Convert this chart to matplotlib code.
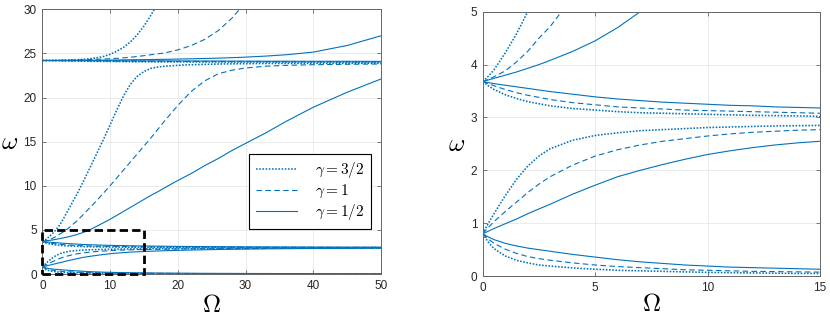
import numpy as np
import matplotlib
matplotlib.use("Agg")
import matplotlib.pyplot as plt
from matplotlib.patches import Rectangle

plt.rcParams["mathtext.fontset"] = "cm"
plt.rcParams["font.family"] = ["Liberation Sans", "DejaVu Sans"]

# Omega sample points (shared by every branch)
Omega = [0, 0.25, 0.5, 1, 1.5, 2, 2.5, 3, 4, 5, 6, 7, 8, 9, 10, 11, 12, 13, 14, 15,
         16, 17, 18, 20, 22, 24, 26, 28, 30, 33, 36, 40, 45, 50]

gamma_labels = [r"$\gamma = 3/2$", r"$\gamma = 1$", r"$\gamma = 1/2$"]

# lowest branch (0.8 -> 0), rows: gamma = 3/2, 1, 1/2
branch_a = [
    [0.8, 0.64, 0.52, 0.38, 0.30, 0.25, 0.21, 0.19, 0.155, 0.13, 0.11, 0.10, 0.09, 0.08, 0.07, 0.065, 0.06, 0.055, 0.05, 0.05,
     0.045, 0.043, 0.04, 0.037, 0.034, 0.031, 0.029, 0.027, 0.025, 0.023, 0.021, 0.019, 0.017, 0.015],
    [0.8, 0.70, 0.62, 0.51, 0.43, 0.37, 0.33, 0.30, 0.25, 0.21, 0.18, 0.16, 0.14, 0.12, 0.11, 0.10, 0.09, 0.085, 0.08, 0.075,
     0.07, 0.066, 0.063, 0.057, 0.052, 0.048, 0.044, 0.041, 0.038, 0.034, 0.031, 0.027, 0.024, 0.02],
    [0.8, 0.74, 0.69, 0.62, 0.57, 0.53, 0.50, 0.47, 0.41, 0.36, 0.31, 0.27, 0.24, 0.21, 0.19, 0.17, 0.16, 0.15, 0.14, 0.13,
     0.12, 0.11, 0.105, 0.095, 0.085, 0.075, 0.07, 0.065, 0.06, 0.055, 0.05, 0.045, 0.04, 0.035],
]

# branch rising from 0.8 towards 3
branch_b = [
    [0.8, 1.0, 1.18, 1.52, 1.83, 2.08, 2.27, 2.41, 2.57, 2.66, 2.71, 2.75, 2.77, 2.79, 2.81, 2.82, 2.83, 2.84, 2.845, 2.85,
     2.86, 2.865, 2.87, 2.88, 2.89, 2.9, 2.91, 2.915, 2.92, 2.93, 2.94, 2.945, 2.95, 2.96],
    [0.8, 0.92, 1.03, 1.22, 1.40, 1.58, 1.74, 1.88, 2.1, 2.27, 2.39, 2.48, 2.55, 2.6, 2.65, 2.69, 2.72, 2.74, 2.76, 2.77,
     2.78, 2.8, 2.81, 2.83, 2.85, 2.86, 2.87, 2.88, 2.89, 2.9, 2.91, 2.92, 2.935, 2.95],
    [0.8, 0.85, 0.9, 0.99, 1.08, 1.18, 1.27, 1.36, 1.55, 1.72, 1.88, 2.0, 2.11, 2.21, 2.3, 2.37, 2.43, 2.48, 2.52, 2.55,
     2.58, 2.61, 2.64, 2.68, 2.72, 2.75, 2.78, 2.8, 2.82, 2.85, 2.87, 2.89, 2.91, 2.93],
]

# branch falling from 3.68 towards 3
branch_c = [
    [3.68, 3.6, 3.53, 3.43, 3.36, 3.30, 3.26, 3.22, 3.17, 3.14, 3.11, 3.09, 3.08, 3.07, 3.06, 3.05, 3.04, 3.035, 3.03, 3.02,
     3.02, 3.015, 3.015, 3.01, 3.01, 3.01, 3.005, 3.005, 3.0, 3.0, 3.0, 3.0, 3.0, 3.0],
    [3.68, 3.64, 3.60, 3.53, 3.47, 3.42, 3.38, 3.34, 3.28, 3.24, 3.2, 3.18, 3.16, 3.14, 3.13, 3.12, 3.11, 3.1, 3.09, 3.08,
     3.075, 3.07, 3.065, 3.06, 3.055, 3.05, 3.045, 3.04, 3.035, 3.03, 3.03, 3.025, 3.02, 3.02],
    [3.68, 3.66, 3.64, 3.61, 3.58, 3.55, 3.52, 3.49, 3.44, 3.39, 3.35, 3.32, 3.29, 3.27, 3.25, 3.23, 3.22, 3.2, 3.19, 3.18,
     3.17, 3.16, 3.15, 3.13, 3.12, 3.11, 3.1, 3.09, 3.08, 3.07, 3.06, 3.05, 3.04, 3.04],
]

# branch rising from 3.68 up to the ~24 level
branch_d = [
    [3.68, 3.78, 3.9, 4.22, 4.58, 5.0, 5.5, 6.1, 7.5, 8.9, 10.4, 12.0, 13.6, 15.2, 16.9, 18.6, 20.2, 21.5, 22.4, 22.95,
     23.3, 23.45, 23.55, 23.65, 23.72, 23.76, 23.8, 23.82, 23.84, 23.86, 23.87, 23.88, 23.89, 23.9],
    [3.68, 3.72, 3.77, 3.88, 4.05, 4.25, 4.5, 4.72, 5.28, 5.95, 6.7, 7.5, 8.3, 9.15, 10.0, 10.9, 11.8, 12.7, 13.6, 14.5,
     15.4, 16.35, 17.3, 19.1, 20.7, 21.9, 22.7, 23.1, 23.35, 23.55, 23.65, 23.72, 23.77, 23.8],
    [3.68, 3.71, 3.74, 3.80, 3.86, 3.93, 4.0, 4.08, 4.25, 4.45, 4.7, 5.0, 5.4, 5.8, 6.2, 6.65, 7.1, 7.55, 8.0, 8.45,
     8.9, 9.3, 9.75, 10.6, 11.4, 12.3, 13.1, 14.0, 14.8, 16.0, 17.3, 18.9, 20.6, 22.1],
]

# branch staying near 24.2
branch_e = [
    [24.2, 24.2, 24.2, 24.19, 24.18, 24.17, 24.16, 24.15, 24.14, 24.13, 24.12, 24.11, 24.1, 24.1, 24.09, 24.08, 24.07, 24.06, 24.06, 24.05,
     24.05, 24.04, 24.04, 24.04, 24.03, 24.03, 24.03, 24.02, 24.02, 24.02, 24.01, 24.01, 24.0, 24.0],
    [24.2, 24.2, 24.2, 24.2, 24.19, 24.19, 24.18, 24.18, 24.17, 24.16, 24.16, 24.15, 24.15, 24.14, 24.14, 24.13, 24.13, 24.12, 24.12, 24.11,
     24.11, 24.11, 24.1, 24.1, 24.09, 24.09, 24.08, 24.08, 24.07, 24.07, 24.06, 24.06, 24.05, 24.05],
    [24.2, 24.2, 24.2, 24.2, 24.2, 24.2, 24.2, 24.19, 24.19, 24.19, 24.19, 24.18, 24.18, 24.18, 24.18, 24.17, 24.17, 24.17, 24.17, 24.16,
     24.16, 24.16, 24.16, 24.15, 24.15, 24.14, 24.14, 24.13, 24.13, 24.12, 24.12, 24.11, 24.11, 24.1],
]

# branch leaving 24.2 upwards (nan once it has left the frame)
nan = np.nan
branch_f = [
    [24.2, 24.2, 24.2, 24.21, 24.21, 24.22, 24.23, 24.24, 24.26, 24.28, 24.32, 24.4, 24.5, 24.65, 24.9, 25.25, 25.7, 26.3, 27.1, 28.1,
     29.3, 30.6, 32.0, nan, nan, nan, nan, nan, nan, nan, nan, nan, nan, nan],
    [24.2, 24.2, 24.2, 24.21, 24.21, 24.22, 24.22, 24.23, 24.24, 24.26, 24.28, 24.31, 24.34, 24.37, 24.4, 24.45, 24.5, 24.57, 24.65, 24.75,
     24.85, 24.95, 25.05, 25.4, 25.9, 26.6, 27.6, 29.0, 30.8, nan, nan, nan, nan, nan],
    [24.2, 24.2, 24.2, 24.2, 24.2, 24.21, 24.21, 24.21, 24.22, 24.22, 24.23, 24.23, 24.24, 24.24, 24.25, 24.26, 24.27, 24.28, 24.29, 24.3,
     24.31, 24.32, 24.33, 24.36, 24.39, 24.43, 24.47, 24.52, 24.58, 24.7, 24.85, 25.15, 25.9, 27.0],
]

branches = [branch_a, branch_b, branch_c, branch_d, branch_e, branch_f]

line_color = "#0072BD"
styles = [
    dict(linestyle=(0, (1, 1)), linewidth=1.15),
    dict(linestyle=(0, (5, 3)), linewidth=0.8),
    dict(linestyle="-", linewidth=0.8),
]


def style_axes(ax, xlim, ylim, xticks, yticks, xpad):
    ax.set_xlim(*xlim)
    ax.set_ylim(*ylim)
    ax.set_xticks(xticks)
    ax.set_yticks(yticks)
    ax.grid(True, color="#e8e8e8", linewidth=0.6)
    ax.set_axisbelow(True)
    for sp in ax.spines.values():
        sp.set_color("#666666")
        sp.set_linewidth(0.7)
    ax.tick_params(direction="in", length=3, width=0.6, color="#666666",
                   labelsize=8.5, labelcolor="#262626", top=True, right=True, pad=4)
    ax.set_xlabel(r"$\Omega$", fontsize=18, labelpad=xpad)
    ax.set_ylabel(r"$\omega$", fontsize=18, rotation=0, labelpad=10, va="center")


fig = plt.figure(figsize=(8.3, 3.17), dpi=100)
ax1 = fig.add_axes([0.051, 0.1356, 0.408, 0.835])
ax2 = fig.add_axes([0.5816, 0.129, 0.4064, 0.834])

for ax in (ax1, ax2):
    for g in range(3):
        for k, br in enumerate(branches):
            ax.plot(Omega, br[g], color=line_color,
                    label=gamma_labels[g] if (ax is ax1 and k == 0) else None,
                    **styles[g])

style_axes(ax1, (0, 50), (0, 30), [0, 10, 20, 30, 40, 50], [0, 5, 10, 15, 20, 25, 30], 1)
style_axes(ax2, (0, 15), (0, 5), [0, 5, 10, 15], [0, 1, 2, 3, 4, 5], -1.5)

# zoom window marking the right panel
ax1.add_patch(Rectangle((0, 0), 15, 5, fill=False, edgecolor="black",
                        linewidth=2.0, linestyle=(0, (3, 1.5)), clip_on=False, zorder=5))

leg = ax1.legend(loc="lower right", bbox_to_anchor=(0.972, 0.169), fontsize=11,
                 handlelength=2.7, handletextpad=1.2, labelspacing=0.15,
                 borderpad=0.45, borderaxespad=0, fancybox=False, framealpha=1,
                 edgecolor="black")
leg.get_frame().set_linewidth(0.8)

fig.savefig("out.png", dpi=100)
